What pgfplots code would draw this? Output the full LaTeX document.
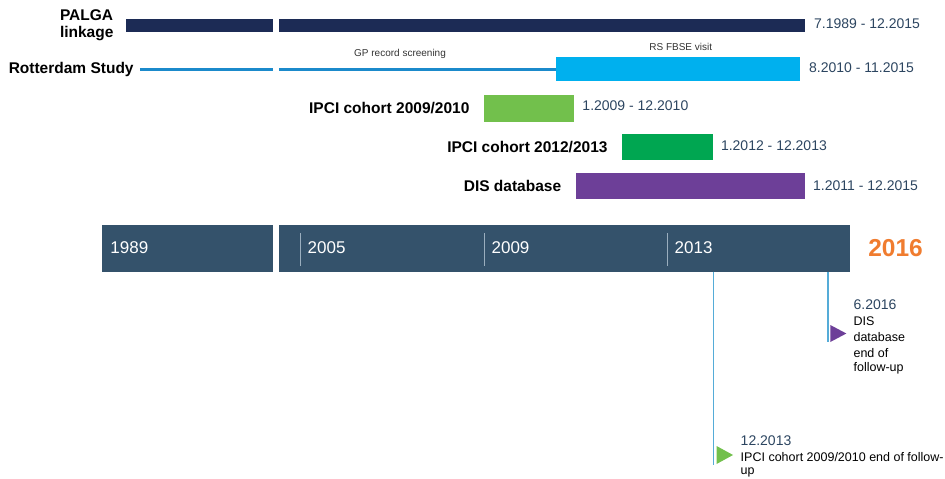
\documentclass[border=0pt]{standalone}
\usepackage{pgfplots}
\pgfplotsset{compat=1.18}
\usepackage{fontspec}
\setmainfont{Liberation Sans}
\definecolor{palga}{HTML}{1C2B55}
\definecolor{rsline}{HTML}{1B8ACB}
\definecolor{rsbar}{HTML}{00B0EE}
\definecolor{ipcia}{HTML}{72C04C}
\definecolor{ipcib}{HTML}{00A651}
\definecolor{dis}{HTML}{6D3F98}
\definecolor{tl}{HTML}{34526B}
\definecolor{tickgrey}{HTML}{9AAEBE}
\definecolor{datec}{HTML}{2C4560}
\definecolor{orng}{HTML}{F07C2F}
\definecolor{vl}{HTML}{55ACD8}
\begin{document}
\begin{tikzpicture}
\begin{axis}[
  name=ax,
  hide axis, scale only axis, width=945pt, height=479pt,
  xmin=1998.45, xmax=2019.05, ymin=0, ymax=479, y dir=reverse,
  clip=false,
  every node/.style={inner sep=0pt, outer sep=0pt},
]
% PALGA linkage
\addplot[fill=palga, draw=none] coordinates {(2001.196,18.5) (2004.40,18.5) (2004.40,31.5) (2001.196,31.5)} -- cycle;
\addplot[fill=palga, draw=none] coordinates {(2004.53,18.5) (2016.0,18.5) (2016.0,31.5) (2004.53,31.5)} -- cycle;
% Rotterdam Study
\addplot[draw=rsline, line width=3pt] coordinates {(2001.50,69) (2004.40,69)};
\addplot[draw=rsline, line width=3pt] coordinates {(2004.53,69) (2010.60,69)};
\addplot[fill=rsbar, draw=none] coordinates {(2010.58,57) (2015.89,57) (2015.89,81) (2010.58,81)} -- cycle;
% IPCI 2009/2010
\addplot[fill=ipcia, draw=none] coordinates {(2009.0,95) (2010.96,95) (2010.96,122) (2009.0,122)} -- cycle;
% IPCI 2012/2013
\addplot[fill=ipcib, draw=none] coordinates {(2012.0,134) (2014.0,134) (2014.0,160) (2012.0,160)} -- cycle;
% DIS database
\addplot[fill=dis, draw=none] coordinates {(2011.0,173) (2016.0,173) (2016.0,199) (2011.0,199)} -- cycle;
% timeline
\addplot[fill=tl, draw=none] coordinates {(2000.673,225) (2004.40,225) (2004.40,271.5) (2000.673,271.5)} -- cycle;
\addplot[fill=tl, draw=none] coordinates {(2004.53,225) (2016.98,225) (2016.98,271.5) (2004.53,271.5)} -- cycle;
\addplot[draw=tickgrey, line width=0.8pt] coordinates {(2005,233) (2005,266)};
\addplot[draw=tickgrey, line width=0.8pt] coordinates {(2009,233) (2009,266)};
\addplot[draw=tickgrey, line width=0.8pt] coordinates {(2013,233) (2013,266)};
% follow-up lines
\addplot[draw=vl, line width=1.6pt] coordinates {(2014.0,271.5) (2014.0,465)};
\addplot[draw=vl, line width=1.6pt] coordinates {(2016.5,271.5) (2016.5,342)};
\addplot[fill=ipcia, draw=none] coordinates {(2014.07,446) (2014.43,455) (2014.07,464)} -- cycle;
\addplot[fill=dis, draw=none] coordinates {(2016.55,325) (2016.90,333.5) (2016.55,342)} -- cycle;

% labels
\node[anchor=east, align=left, font=\fontsize{15.5}{17}\selectfont\bfseries] at (axis cs:2001.0,25) {PALGA\\linkage};
\node[anchor=east, font=\fontsize{15.5}{17}\selectfont\bfseries] at (axis cs:2001.44,69) {Rotterdam Study};
\node[anchor=east, font=\fontsize{15.5}{17}\selectfont\bfseries] at (axis cs:2008.76,108) {IPCI cohort 2009/2010};
\node[anchor=east, font=\fontsize{15.5}{17}\selectfont\bfseries] at (axis cs:2011.77,147) {IPCI cohort 2012/2013};
\node[anchor=east, font=\fontsize{15.5}{17}\selectfont\bfseries] at (axis cs:2010.76,186) {DIS database};
% dates
\node[anchor=west, text=datec, font=\fontsize{14}{16}\selectfont] at (axis cs:2016.12,24) {7.1989 - 12.2015};
\node[anchor=west, text=datec, font=\fontsize{14}{16}\selectfont] at (axis cs:2016.01,68) {8.2010 - 11.2015};
\node[anchor=west, text=datec, font=\fontsize{14}{16}\selectfont] at (axis cs:2011.07,106) {1.2009 - 12.2010};
\node[anchor=west, text=datec, font=\fontsize{14}{16}\selectfont] at (axis cs:2014.09,146) {1.2012 - 12.2013};
\node[anchor=west, text=datec, font=\fontsize{14}{16}\selectfont] at (axis cs:2016.10,186) {1.2011 - 12.2015};
\node[font=\fontsize{10}{12}\selectfont, text=black!80] at (axis cs:2007.17,54) {GP record screening};
\node[font=\fontsize{10}{12}\selectfont, text=black!80] at (axis cs:2013.29,47) {RS FBSE visit};
% timeline years
\node[anchor=west, text=white, font=\fontsize{17}{19}\selectfont] at (axis cs:2000.78,248) {1989};
\node[anchor=west, text=white, font=\fontsize{17}{19}\selectfont] at (axis cs:2005.08,248) {2005};
\node[anchor=west, text=white, font=\fontsize{17}{19}\selectfont] at (axis cs:2009.09,248) {2009};
\node[anchor=west, text=white, font=\fontsize{17}{19}\selectfont] at (axis cs:2013.08,248) {2013};
\node[anchor=west, text=orng, font=\fontsize{24.5}{27}\selectfont\bfseries] at (axis cs:2017.30,248) {2016};
% follow-up texts
\node[anchor=west, text=datec, font=\fontsize{14}{16}\selectfont] at (axis cs:2014.52,441) {12.2013};
\node[anchor=west, font=\fontsize{12.5}{15}\selectfont] at (axis cs:2014.52,457) {IPCI cohort 2009/2010 end of follow-};
\node[anchor=west, font=\fontsize{12.5}{15}\selectfont] at (axis cs:2014.52,472) {up};
\node[anchor=west, text=datec, font=\fontsize{14}{16}\selectfont] at (axis cs:2016.98,305) {6.2016};
\node[anchor=west, font=\fontsize{12.5}{15}\selectfont] at (axis cs:2016.98,321) {DIS};
\node[anchor=west, font=\fontsize{12.5}{15}\selectfont] at (axis cs:2016.98,337) {database};
\node[anchor=west, font=\fontsize{12.5}{15}\selectfont] at (axis cs:2016.98,353) {end of};
\node[anchor=west, font=\fontsize{12.5}{15}\selectfont] at (axis cs:2016.98,368) {follow-up};
\end{axis}
\pgfresetboundingbox
\path (ax.south west) rectangle (ax.north east);
\end{tikzpicture}
\end{document}
